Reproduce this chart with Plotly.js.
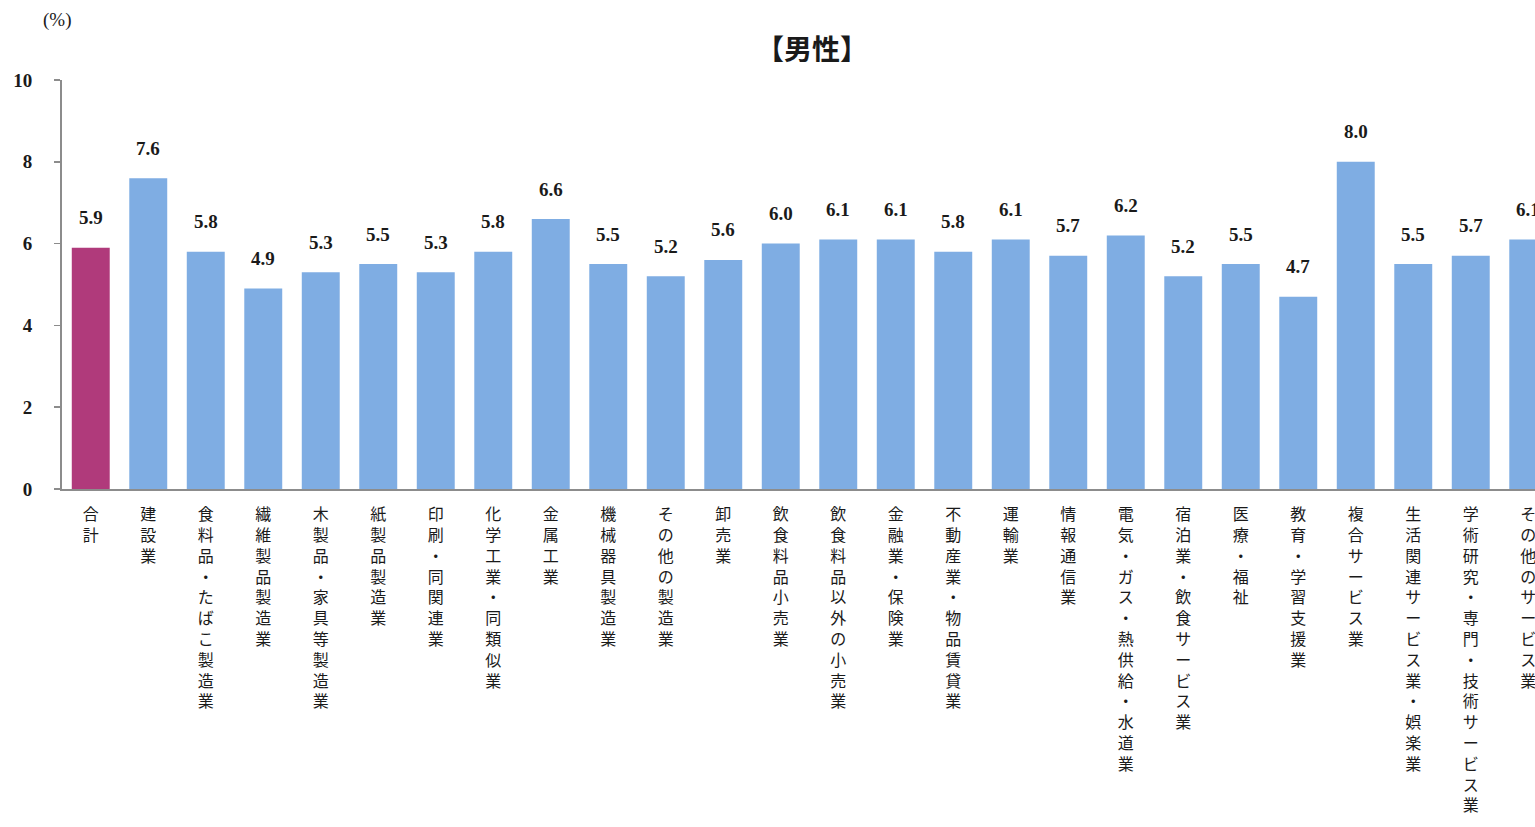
<!DOCTYPE html>
<html>
<head>
<meta charset="utf-8">
<script src="https://cdn.plot.ly/plotly-3.0.1.min.js"></script>
<style>
html,body{margin:0;padding:0;overflow:hidden;background:#fff;}
#chart{width:1535px;height:827px;}
</style>
</head>
<body>
<div id="chart"></div>
<script>
const categories = [
  "合計","建設業","食料品・たばこ製造業","繊維製品製造業","木製品・家具等製造業",
  "紙製品製造業","印刷・同関連業","化学工業・同類似業","金属工業","機械器具製造業",
  "その他の製造業","卸売業","飲食料品小売業","飲食料品以外の小売業","金融業・保険業",
  "不動産業・物品賃貸業","運輸業","情報通信業","電気・ガス・熱供給・水道業","宿泊業・飲食サービス業",
  "医療・福祉","教育・学習支援業","複合サービス業","生活関連サービス業・娯楽業",
  "学術研究・専門・技術サービス業","その他のサービス業"
];
const values = [
  5.9,7.6,5.8,4.9,5.3,
  5.5,5.3,5.8,6.6,5.5,
  5.2,5.6,6.0,6.1,6.1,
  5.8,6.1,5.7,6.2,5.2,
  5.5,4.7,8.0,5.5,
  5.7,6.1
];
const yTicks = [0,2,4,6,8,10];
const titleText = "【男性】";
const unitText = "(%)";

const TOTAL_COLOR = "#B03A7B";
const BAR_COLOR = "#7FADE3";
const AXIS_COLOR = "#8C8C8C";
const SERIF = "'Liberation Serif', 'DejaVu Serif', serif";
const CJK = "'Noto Sans CJK JP', 'Noto Sans', sans-serif";

const xs = categories.map((_, i) => i);
const colors = categories.map((_, i) => i === 0 ? TOTAL_COLOR : BAR_COLOR);
const tickText = categories.map(c => Array.from(c).join("<br>"));

const trace = {
  type: "bar",
  x: xs,
  y: values,
  marker: {color: colors, line: {width: 0}},
  hoverinfo: "skip",
  cliponaxis: true
};

const valueAnnotations = values.map((v, i) => ({
  x: i, y: v, xref: "x", yref: "y",
  text: v.toFixed(1),
  showarrow: false,
  yanchor: "middle",
  yshift: 30,
  font: {family: SERIF, size: 19, color: "#1a1a1a", weight: "bold"}
}));

const layout = {
  width: 1535,
  height: 827,
  margin: {l: 62, r: 0, t: 80, b: 338, pad: 0},
  paper_bgcolor: "#ffffff",
  plot_bgcolor: "#ffffff",
  showlegend: false,
  bargap: 0.34,
  title: {
    text: titleText,
    xref: "container", yref: "container",
    x: 812/1535, y: 1 - 50/827,
    xanchor: "center", yanchor: "middle",
    font: {family: CJK, size: 28, color: "#1a1a1a", weight: "bold"}
  },
  xaxis: {
    range: [-0.5, -0.5 + 1473/57.5],
    tickmode: "array",
    tickvals: xs,
    ticktext: tickText,
    tickangle: 0,
    ticks: "",
    showgrid: false,
    zeroline: false,
    showline: true,
    linecolor: AXIS_COLOR,
    linewidth: 2,
    ticklabelstandoff: 10,
    ticklabeloverflow: "allow",
    tickfont: {family: CJK, size: 16, color: "#1a1a1a"},
    fixedrange: true
  },
  yaxis: {
    range: [0, 10],
    tickmode: "array",
    tickvals: yTicks,
    ticktext: yTicks.map(String),
    ticks: "outside",
    ticklen: 6,
    tickwidth: 1.5,
    tickcolor: AXIS_COLOR,
    showgrid: false,
    zeroline: false,
    showline: true,
    linecolor: AXIS_COLOR,
    linewidth: 2,
    ticklabelstandoff: 18,
    tickfont: {family: SERIF, size: 19, color: "#1a1a1a", weight: "bold"},
    fixedrange: true
  },
  annotations: valueAnnotations.concat([{
    xref: "paper", yref: "paper",
    x: (57 - 62) / 1473, y: 1 + 60/409,
    text: unitText,
    showarrow: false,
    xanchor: "center", yanchor: "middle",
    font: {family: SERIF, size: 19, color: "#1a1a1a"}
  }])
};

Plotly.newPlot("chart", [trace], layout, {displayModeBar: false, staticPlot: true});
</script>
</body>
</html>
